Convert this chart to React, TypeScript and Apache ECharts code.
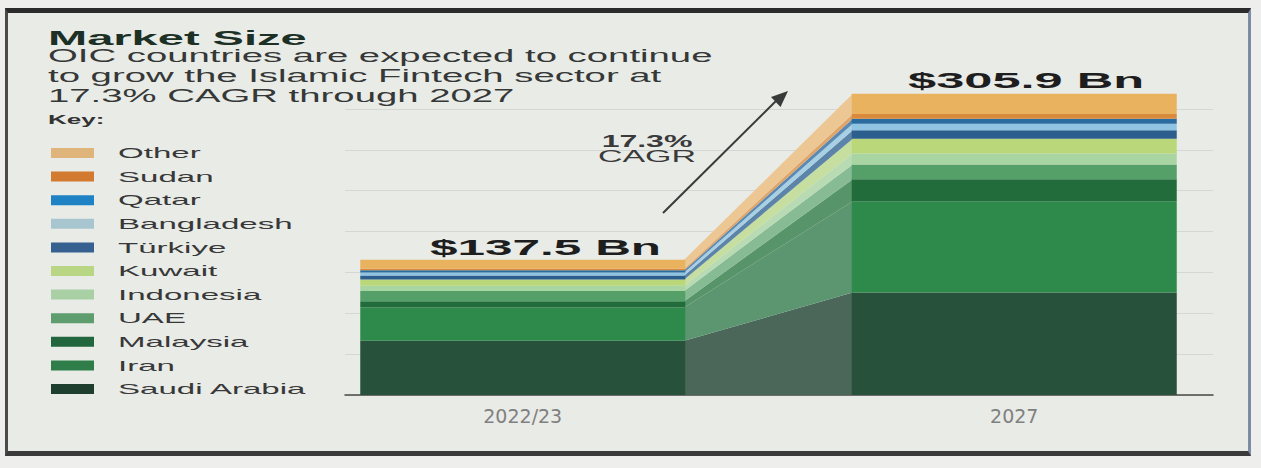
import React, { useEffect, useRef } from 'react';
import * as echarts from 'echarts';

// ---------- data ----------
const CATEGORIES = ['2022/23', '2027'];
// stacking order, bottom to top
const COUNTRIES = ['Saudi Arabia', 'Iran', 'Malaysia', 'UAE', 'Indonesia', 'Kuwait', 'Türkiye', 'Bangladesh', 'Qatar', 'Sudan', 'Other'];
const VALUES_2022 = [55.0, 34.0, 6.3, 10.4, 5.2, 6.3, 4.2, 3.1, 2.1, 1.6, 9.3];
const VALUES_2027 = [104.0, 92.9, 22.2, 15.1, 11.1, 15.1, 8.4, 6.7, 5.0, 5.0, 20.4];
const TOTALS = [137.5, 305.9];
const CAGR_PCT = 17.3;
const TITLE = 'Market Size';
const SUBTITLE_LINES = [
  'OIC countries are expected to continue',
  'to grow the Islamic Fintech sector at',
  '17.3% CAGR through 2027',
];
const KEY_LABEL = 'Key:';
const Y_MAX = 290.5;
const Y_INTERVAL = 41.5;

// ---------- styles ----------
const BAR_COLORS = ['#27513a', '#2e8a4b', '#226c3c', '#559f68', '#a9d5a2', '#bad879', '#2c5f8d', '#8fc5e3', '#2a6c9f', '#d98a3c', '#e8b25e'];
const LEGEND_COLORS = ['#1f3f2e', '#2f7e4a', '#21663c', '#5e9e6e', '#a9cfa5', '#b9d684', '#36608f', '#a8c6d0', '#1f82c4', '#d27a30', '#e0b57c'];
const CONNECTOR_COLORS = ['#4b675a', '#5c9671', '#579469', '#86bb94', '#b8dbb3', '#c6dfa0', '#5c84a8', '#a8d0e4', '#5a8ab3', '#e0a468', '#ecc794'];
const BAR_WIDTH = 325;
const FONT = 'Liberation Sans, Arial, sans-serif';
const SX = 2.22;

function cumulative(vals: number[]): number[] {
  const out: number[] = [];
  let s = 0;
  for (const v of vals) {
    out.push(s);
    s += v;
  }
  return out;
}

function fmtBn(v: number): string {
  return '$' + v.toFixed(1) + ' Bn';
}

function txt(x: number, y: number, text: string, opts: any = {}) {
  const align = opts.align || 'left';
  return {
    type: 'text',
    x,
    y,
    scaleX: opts.scaleX ?? SX,
    z: 100,
    style: {
      text,
      x: 0,
      y: 0,
      fill: opts.fill || '#333',
      fontSize: opts.fontSize || 14,
      fontWeight: opts.fontWeight || 'normal',
      fontFamily: FONT,
      align,
      textAlign: align,
      verticalAlign: 'middle',
      textVerticalAlign: 'middle',
    },
  };
}

export default function App() {
  const ref = useRef<HTMLDivElement>(null);

  useEffect(() => {
    if (!ref.current) return;
    const chart = echarts.init(ref.current, undefined, { renderer: 'svg' });

    const cum22 = cumulative(VALUES_2022);
    const cum27 = cumulative(VALUES_2027);
    const connectorData = COUNTRIES.map((_, i) => [
      0,
      cum22[i],
      cum22[i] + VALUES_2022[i],
      cum27[i],
      cum27[i] + VALUES_2027[i],
    ]);

    const barSeries = COUNTRIES.map((name, i) => ({
      name,
      type: 'bar',
      stack: 'total',
      xAxisIndex: 1,
      yAxisIndex: 1,
      barWidth: BAR_WIDTH,
      clip: false,
      z: 3,
      itemStyle: { color: BAR_COLORS[i] },
      data: [VALUES_2022[i], VALUES_2027[i]],
    }));

    const connectorSeries = {
      type: 'custom',
      name: 'connector',
      xAxisIndex: 1,
      yAxisIndex: 1,
      clip: false,
      z: 2,
      silent: true,
      encode: { x: 0, y: [1, 2, 3, 4] },
      data: connectorData,
      renderItem: (params: any, api: any) => {
        const lo0 = api.value(1);
        const hi0 = api.value(2);
        const lo1 = api.value(3);
        const hi1 = api.value(4);
        const a = api.coord([0, lo0]);
        const b = api.coord([0, hi0]);
        const c = api.coord([1, hi1]);
        const d = api.coord([1, lo1]);
        const half = BAR_WIDTH / 2;
        const xl = a[0] + half - 1;
        const xr = c[0] - half + 1;
        return {
          type: 'polygon',
          shape: { points: [[xl, b[1]], [xr, c[1]], [xr, d[1]], [xl, a[1]]] },
          style: { fill: CONNECTOR_COLORS[params.dataIndex], stroke: null },
        };
      },
    };

    const graphics: any[] = [];
    graphics.push(txt(48, 38, TITLE, { fontSize: 21, fontWeight: 'bold', fill: '#1d3026', scaleX: 2.24 }));
    SUBTITLE_LINES.forEach((line, i) => {
      graphics.push(txt(48, 56 + i * 19.7, line, { fontSize: 17.5, fill: '#353836', scaleX: 2.19 }));
    });
    graphics.push(txt(48, 119, KEY_LABEL, { fontSize: 13, fontWeight: 'bold', fill: '#333', scaleX: 2.0 }));
    const legendOrder = COUNTRIES.map((_, i) => COUNTRIES.length - 1 - i);
    legendOrder.forEach((idx, row) => {
      const cy = 153 + row * 23.6;
      graphics.push({
        type: 'rect',
        z: 100,
        shape: { x: 51, y: cy - 5, width: 43, height: 10 },
        style: { fill: LEGEND_COLORS[idx] },
      });
      graphics.push(txt(118, cy, COUNTRIES[idx], { fontSize: 14.5, fill: '#383838', scaleX: 2.28 }));
    });
    // totals
    graphics.push(txt(430, 247, fmtBn(TOTALS[0]), { fontSize: 22, fontWeight: 'bold', fill: '#1e1e1e', scaleX: 2.25 }));
    graphics.push(txt(908, 80, fmtBn(TOTALS[1]), { fontSize: 22, fontWeight: 'bold', fill: '#1e1e1e', scaleX: 2.3 }));
    // CAGR annotation
    graphics.push(txt(647, 141, CAGR_PCT.toFixed(1) + '%', { fontSize: 16, fontWeight: 'bold', fill: '#3a3a3a', scaleX: 2.0, align: 'center' }));
    graphics.push(txt(647, 156, 'CAGR', { fontSize: 17, fill: '#3a3a3a', scaleX: 2.0, align: 'center' }));
    graphics.push({
      type: 'line',
      z: 100,
      shape: { x1: 663, y1: 213, x2: 779, y2: 98 },
      style: { stroke: '#3a3a3a', lineWidth: 2 },
    });
    graphics.push({
      type: 'polygon',
      z: 100,
      shape: { points: [[788, 91], [780.5, 107], [771, 97]] },
      style: { fill: '#3a3a3a' },
    });

    chart.setOption({
      animation: false,
      backgroundColor: 'transparent',
      grid: [
        { left: 345, right: 48, top: 109, bottom: 73 },
        { left: 277, right: 1, top: 109, bottom: 73 },
      ],
      xAxis: [
        {
          type: 'value',
          gridIndex: 0,
          min: 0,
          max: 1,
          axisLine: { show: true, onZero: false, lineStyle: { color: '#4a4a4a', width: 1.5 } },
          axisTick: { show: false },
          axisLabel: { show: false },
          splitLine: { show: false },
        },
        {
          type: 'category',
          gridIndex: 1,
          data: CATEGORIES,
          axisLine: { show: false },
          axisTick: { show: false },
          axisLabel: { color: '#808080', fontSize: 19, fontFamily: 'DejaVu Sans, sans-serif', margin: 11 },
          splitLine: { show: false },
        },
      ],
      yAxis: [
        {
          type: 'value',
          gridIndex: 0,
          min: 0,
          max: Y_MAX,
          interval: Y_INTERVAL,
          axisLine: { show: false },
          axisTick: { show: false },
          axisLabel: { show: false },
          splitLine: { show: true, lineStyle: { color: '#d4d7d3', width: 1 } },
        },
        {
          type: 'value',
          gridIndex: 1,
          min: 0,
          max: Y_MAX,
          interval: Y_INTERVAL,
          show: false,
          splitLine: { show: false },
        },
      ],
      series: [connectorSeries, ...barSeries],
      graphic: graphics,
    });

    return () => {
      chart.dispose();
    };
  }, []);

  return (
    <div style={{ position: 'fixed', left: 0, top: 0, width: 1261, height: 468, background: '#eeeeec', overflow: 'hidden' }}>
      <div
        style={{
          position: 'absolute',
          left: 5,
          top: 8,
          width: 1246,
          height: 448,
          background: '#e9ebe7',
          borderTop: '5px solid #2b2b2b',
          borderLeft: '3px solid #4a4a4a',
          borderBottom: '5px solid #3a3a3a',
          borderRight: '3px solid #7d8ca3',
          boxSizing: 'border-box',
        }}
      />
      <div ref={ref} style={{ position: 'absolute', left: 0, top: 0, width: 1261, height: 468 }} />
    </div>
  );
}
